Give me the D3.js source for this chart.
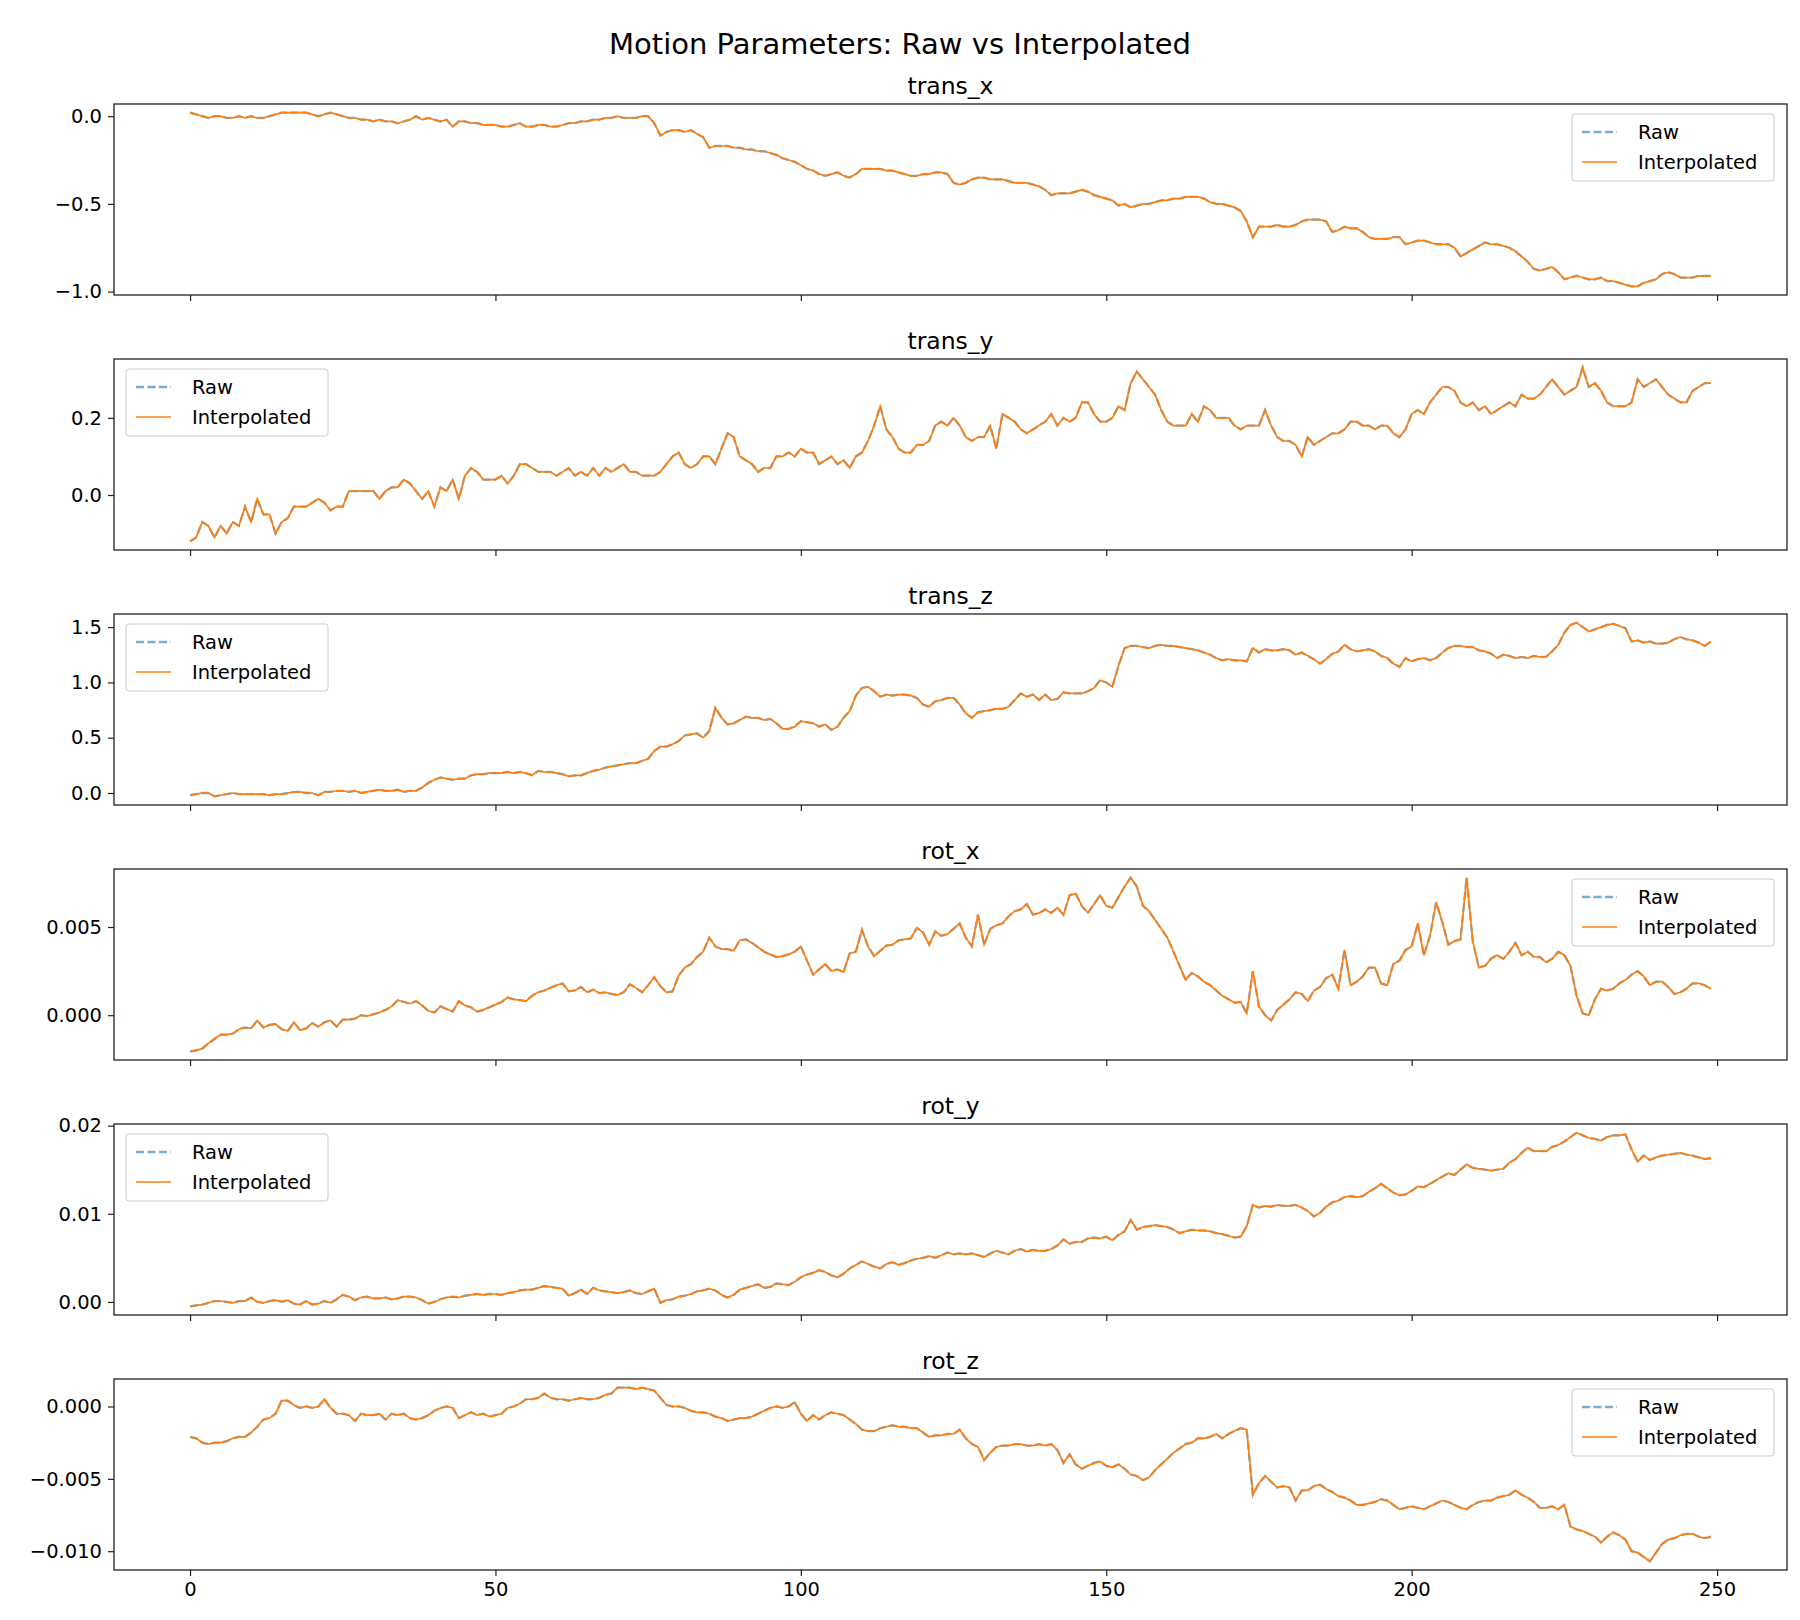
<!DOCTYPE html>
<html>
<head>
<meta charset="UTF-8">
<script src="https://d3js.org/d3.v7.min.js"></script>
<style>
  body { margin: 0; background: #fff; font-family: "DejaVu Sans", sans-serif; }
  .tick text { font-size: 19.5px; fill: #000; font-family: "DejaVu Sans", sans-serif; }
  .tick line { stroke: #222; stroke-width: 1.2; }
  .domain { display: none; }
</style>
</head>
<body>
<svg id="chart"></svg>
<script>
// frame index 0..249 for every series
const transX = [
  0.02,0.01,0.0,-0.01,0.0,0.0,-0.01,-0.01,0.0,-0.01,
  0.0,-0.01,-0.01,0.0,0.01,0.02,0.02,0.02,0.02,0.02,
  0.01,0.0,0.01,0.02,0.01,0.0,-0.01,-0.01,-0.02,-0.02,
  -0.03,-0.02,-0.03,-0.03,-0.04,-0.03,-0.02,0.0,-0.02,-0.01,
  -0.02,-0.03,-0.02,-0.06,-0.03,-0.03,-0.04,-0.04,-0.05,-0.05,
  -0.05,-0.06,-0.06,-0.05,-0.04,-0.06,-0.06,-0.05,-0.05,-0.06,
  -0.06,-0.05,-0.04,-0.04,-0.03,-0.03,-0.02,-0.02,-0.01,-0.01,
  0.0,-0.01,-0.01,-0.01,0.0,0.0,-0.04,-0.11,-0.09,-0.08,
  -0.08,-0.09,-0.08,-0.1,-0.12,-0.18,-0.17,-0.17,-0.17,-0.18,
  -0.18,-0.19,-0.19,-0.2,-0.2,-0.21,-0.22,-0.24,-0.25,-0.26,
  -0.28,-0.3,-0.31,-0.33,-0.34,-0.33,-0.32,-0.34,-0.35,-0.33,
  -0.3,-0.3,-0.3,-0.3,-0.31,-0.31,-0.32,-0.33,-0.34,-0.34,
  -0.33,-0.33,-0.32,-0.32,-0.33,-0.38,-0.39,-0.38,-0.36,-0.35,
  -0.35,-0.36,-0.36,-0.36,-0.37,-0.38,-0.38,-0.38,-0.39,-0.4,
  -0.42,-0.45,-0.44,-0.44,-0.44,-0.43,-0.42,-0.43,-0.45,-0.46,
  -0.47,-0.48,-0.51,-0.5,-0.52,-0.51,-0.5,-0.5,-0.49,-0.48,
  -0.48,-0.47,-0.47,-0.46,-0.46,-0.46,-0.47,-0.49,-0.5,-0.5,
  -0.51,-0.52,-0.54,-0.6,-0.69,-0.63,-0.63,-0.63,-0.62,-0.63,
  -0.63,-0.62,-0.6,-0.59,-0.59,-0.59,-0.6,-0.66,-0.65,-0.63,
  -0.64,-0.64,-0.66,-0.69,-0.7,-0.7,-0.7,-0.69,-0.69,-0.73,
  -0.72,-0.71,-0.71,-0.72,-0.73,-0.73,-0.73,-0.75,-0.8,-0.78,
  -0.76,-0.74,-0.72,-0.73,-0.73,-0.74,-0.75,-0.77,-0.8,-0.83,
  -0.87,-0.88,-0.87,-0.86,-0.89,-0.93,-0.92,-0.91,-0.92,-0.93,
  -0.93,-0.92,-0.94,-0.94,-0.95,-0.96,-0.97,-0.97,-0.95,-0.94,
  -0.93,-0.9,-0.89,-0.9,-0.92,-0.92,-0.92,-0.91,-0.91,-0.91
];
const transY = [
  -0.12,-0.11,-0.07,-0.08,-0.11,-0.08,-0.1,-0.07,-0.08,-0.03,
  -0.07,-0.01,-0.05,-0.05,-0.1,-0.07,-0.06,-0.03,-0.03,-0.03,
  -0.02,-0.01,-0.02,-0.04,-0.03,-0.03,0.01,0.01,0.01,0.01,
  0.01,-0.01,0.01,0.02,0.02,0.04,0.03,0.01,-0.01,0.01,
  -0.03,0.02,0.01,0.04,-0.01,0.05,0.07,0.06,0.04,0.04,
  0.04,0.05,0.03,0.05,0.08,0.08,0.07,0.06,0.06,0.06,
  0.05,0.06,0.07,0.05,0.06,0.05,0.07,0.05,0.07,0.06,
  0.07,0.08,0.06,0.06,0.05,0.05,0.05,0.06,0.08,0.1,
  0.11,0.08,0.07,0.08,0.1,0.1,0.08,0.12,0.16,0.15,
  0.1,0.09,0.08,0.06,0.07,0.07,0.1,0.1,0.11,0.1,
  0.12,0.11,0.11,0.08,0.09,0.1,0.08,0.09,0.07,0.1,
  0.11,0.14,0.18,0.23,0.17,0.15,0.12,0.11,0.11,0.13,
  0.13,0.14,0.18,0.19,0.18,0.2,0.18,0.15,0.14,0.15,
  0.15,0.18,0.12,0.21,0.2,0.19,0.17,0.16,0.17,0.18,
  0.19,0.21,0.18,0.2,0.19,0.2,0.24,0.24,0.21,0.19,
  0.19,0.2,0.23,0.22,0.29,0.32,0.3,0.28,0.26,0.22,
  0.19,0.18,0.18,0.18,0.21,0.19,0.23,0.22,0.2,0.2,
  0.2,0.18,0.17,0.18,0.18,0.18,0.22,0.18,0.15,0.14,
  0.14,0.13,0.1,0.15,0.13,0.14,0.15,0.16,0.16,0.17,
  0.19,0.19,0.18,0.18,0.17,0.18,0.18,0.16,0.15,0.17,
  0.21,0.22,0.21,0.24,0.26,0.28,0.28,0.27,0.24,0.23,
  0.24,0.22,0.23,0.21,0.22,0.23,0.24,0.23,0.26,0.25,
  0.25,0.26,0.28,0.3,0.28,0.26,0.27,0.28,0.33,0.28,
  0.29,0.27,0.24,0.23,0.23,0.23,0.24,0.3,0.28,0.29,
  0.3,0.28,0.26,0.25,0.24,0.24,0.27,0.28,0.29,0.29
];
const transZ = [
  -0.02,-0.01,0.0,0.0,-0.03,-0.02,-0.01,0.0,-0.01,-0.01,
  -0.01,-0.01,-0.01,-0.02,-0.01,-0.01,0.0,0.01,0.01,0.0,
  0.0,-0.02,0.01,0.01,0.02,0.02,0.01,0.02,0.0,0.01,
  0.02,0.03,0.02,0.02,0.03,0.01,0.02,0.02,0.05,0.09,
  0.12,0.14,0.13,0.12,0.13,0.13,0.16,0.17,0.17,0.18,
  0.18,0.18,0.19,0.18,0.19,0.18,0.16,0.2,0.19,0.19,
  0.18,0.17,0.15,0.16,0.16,0.18,0.2,0.21,0.23,0.24,
  0.25,0.26,0.27,0.27,0.29,0.31,0.38,0.42,0.42,0.44,
  0.47,0.52,0.53,0.54,0.5,0.56,0.77,0.68,0.62,0.63,
  0.66,0.69,0.68,0.68,0.66,0.67,0.63,0.58,0.58,0.6,
  0.65,0.64,0.63,0.6,0.62,0.57,0.6,0.68,0.74,0.88,
  0.95,0.96,0.92,0.87,0.89,0.88,0.89,0.89,0.88,0.86,
  0.8,0.78,0.83,0.84,0.86,0.86,0.8,0.72,0.68,0.73,
  0.74,0.75,0.76,0.76,0.78,0.84,0.9,0.87,0.89,0.84,
  0.89,0.84,0.85,0.91,0.9,0.9,0.9,0.92,0.95,1.02,
  1.0,0.96,1.15,1.31,1.33,1.33,1.32,1.31,1.33,1.34,
  1.33,1.33,1.32,1.31,1.3,1.29,1.27,1.25,1.22,1.2,
  1.21,1.2,1.2,1.19,1.31,1.27,1.3,1.29,1.29,1.3,
  1.29,1.25,1.27,1.24,1.21,1.17,1.21,1.26,1.28,1.34,
  1.3,1.28,1.29,1.3,1.28,1.24,1.22,1.17,1.14,1.22,
  1.19,1.21,1.22,1.2,1.22,1.27,1.31,1.33,1.33,1.32,
  1.32,1.29,1.28,1.26,1.22,1.25,1.24,1.22,1.23,1.22,
  1.24,1.23,1.23,1.28,1.34,1.45,1.52,1.54,1.5,1.46,
  1.48,1.5,1.52,1.53,1.51,1.49,1.37,1.38,1.36,1.37,
  1.35,1.35,1.36,1.39,1.41,1.39,1.38,1.36,1.33,1.37
];
const rotX = [
  -0.00205,-0.002,-0.0019,-0.0016,-0.00135,-0.0011,-0.0011,-0.00105,-0.0008,-0.0007,
  -0.00075,-0.0003,-0.0007,-0.00055,-0.0005,-0.0008,-0.0009,-0.0004,-0.00085,-0.00075,
  -0.00045,-0.00065,-0.0004,-0.0003,-0.00065,-0.00025,-0.00025,-0.0002,0.0,-0.00005,
  0.00005,0.00015,0.0003,0.0005,0.00085,0.00075,0.00065,0.0008,0.00055,0.00025,
  0.00015,0.0005,0.00035,0.0002,0.0008,0.00055,0.00045,0.0002,0.0003,0.00045,
  0.0006,0.00075,0.001,0.0009,0.00085,0.0008,0.0011,0.0013,0.0014,0.00155,
  0.0017,0.0018,0.00135,0.0014,0.0016,0.0013,0.00145,0.00125,0.0013,0.0012,
  0.00115,0.0013,0.00175,0.00155,0.0013,0.0017,0.00215,0.00165,0.0013,0.00135,
  0.00225,0.0027,0.0029,0.0033,0.0036,0.0044,0.0039,0.00375,0.00375,0.00365,
  0.00425,0.0043,0.0041,0.00385,0.0036,0.00345,0.0033,0.00335,0.00345,0.0036,
  0.0039,0.0031,0.0023,0.0026,0.0029,0.0025,0.0026,0.00245,0.0035,0.0036,
  0.00485,0.0039,0.00335,0.00365,0.00395,0.004,0.00425,0.0043,0.00435,0.00495,
  0.0047,0.004,0.00475,0.0045,0.0046,0.0049,0.0052,0.0044,0.0039,0.0057,
  0.004,0.0049,0.0051,0.0052,0.0056,0.0059,0.006,0.0063,0.0057,0.0058,
  0.006,0.0058,0.0061,0.0057,0.0068,0.0069,0.0062,0.0058,0.0063,0.0068,
  0.0062,0.0061,0.0067,0.0073,0.0078,0.0073,0.0062,0.0059,0.0054,0.0049,
  0.0044,0.0036,0.0028,0.002,0.0024,0.0022,0.0019,0.0017,0.0014,0.0011,
  0.0009,0.0007,0.00075,0.0001,0.0025,0.0005,0.0,-0.0003,0.0003,0.0006,
  0.0009,0.0013,0.0012,0.0008,0.0014,0.0016,0.0021,0.0023,0.0015,0.0037,
  0.0017,0.0019,0.0022,0.0027,0.0027,0.0018,0.0017,0.0029,0.0031,0.0037,
  0.0039,0.0052,0.0034,0.0045,0.0064,0.0053,0.004,0.0042,0.0043,0.0078,
  0.0042,0.0027,0.0028,0.0032,0.0034,0.0032,0.0036,0.0041,0.0034,0.0036,
  0.0033,0.0033,0.003,0.0032,0.0036,0.0034,0.0028,0.0011,0.0001,0.0,
  0.0009,0.0015,0.0014,0.0015,0.0018,0.002,0.0023,0.0025,0.0022,0.0017,
  0.0019,0.0019,0.0016,0.0012,0.0013,0.0015,0.0018,0.0018,0.0017,0.0015
];
const rotY = [
  -0.0005,-0.0004,-0.0003,-0.0001,0.0001,0.0001,0.0,-0.0001,0.0001,0.0001,
  0.0005,0.0,-0.0001,0.0001,0.0002,0.0,0.0002,-0.0002,-0.0003,0.0001,
  -0.0003,-0.0002,0.0001,-0.0001,0.0003,0.0008,0.0006,0.0002,0.0005,0.0006,
  0.0004,0.0004,0.0005,0.0003,0.0004,0.0006,0.0006,0.0005,0.0002,-0.0002,
  0.0,0.0003,0.0005,0.0006,0.0005,0.0007,0.0008,0.0009,0.0008,0.0009,
  0.0009,0.0008,0.001,0.0011,0.0013,0.0014,0.0014,0.0016,0.0018,0.0017,
  0.0016,0.0015,0.0007,0.001,0.0014,0.0009,0.0016,0.0013,0.0012,0.0011,
  0.001,0.0011,0.0013,0.001,0.0009,0.0012,0.0015,-0.0001,0.0002,0.0003,
  0.0006,0.0007,0.0009,0.0012,0.0013,0.0015,0.0013,0.0008,0.0005,0.0008,
  0.0014,0.0016,0.0018,0.002,0.0016,0.0017,0.0021,0.002,0.0019,0.0023,
  0.0028,0.0031,0.0033,0.0036,0.0034,0.003,0.0028,0.0032,0.0038,0.0042,
  0.0046,0.0043,0.004,0.0038,0.0043,0.0045,0.0042,0.0044,0.0047,0.0049,
  0.005,0.0052,0.005,0.0053,0.0056,0.0054,0.0055,0.0054,0.0055,0.0053,
  0.0051,0.0055,0.0058,0.0056,0.0054,0.0058,0.006,0.0057,0.0059,0.0058,
  0.0058,0.006,0.0064,0.0071,0.0066,0.0068,0.0068,0.0072,0.0073,0.0072,
  0.0074,0.007,0.0076,0.008,0.0093,0.0082,0.0085,0.0086,0.0087,0.0086,
  0.0085,0.0082,0.0078,0.008,0.0082,0.0081,0.0081,0.008,0.0078,0.0077,
  0.0075,0.0073,0.0074,0.0086,0.011,0.0107,0.0109,0.0108,0.011,0.0109,
  0.0109,0.011,0.0107,0.0103,0.0097,0.0101,0.0108,0.0113,0.0115,0.0119,
  0.012,0.0119,0.012,0.0125,0.0129,0.0134,0.0129,0.0124,0.0121,0.0122,
  0.0126,0.0131,0.013,0.0134,0.0138,0.0142,0.0146,0.0144,0.015,0.0156,
  0.0152,0.0151,0.015,0.0149,0.015,0.0151,0.0158,0.0162,0.0169,0.0175,
  0.0171,0.0171,0.0171,0.0176,0.0178,0.0182,0.0187,0.0192,0.0189,0.0186,
  0.0185,0.0183,0.0187,0.0189,0.0189,0.019,0.0173,0.0159,0.0166,0.0161,
  0.0164,0.0166,0.0167,0.0168,0.0169,0.0167,0.0166,0.0164,0.0162,0.0163
];
const rotZ = [
  -0.0021,-0.0022,-0.0025,-0.0026,-0.0025,-0.0025,-0.0024,-0.0022,-0.0021,-0.0021,
  -0.0018,-0.0014,-0.0009,-0.0008,-0.0005,0.0004,0.0004,0.0001,-0.0001,0.0,
  -0.0001,0.0,0.0005,-0.0001,-0.0005,-0.0005,-0.0006,-0.001,-0.0005,-0.0006,
  -0.0006,-0.0005,-0.0009,-0.0005,-0.0006,-0.0005,-0.0008,-0.0009,-0.0008,-0.0006,
  -0.0003,-0.0001,0.0,-0.0001,-0.0008,-0.0006,-0.0004,-0.0006,-0.0005,-0.0007,
  -0.0006,-0.0005,-0.0001,0.0,0.0002,0.0005,0.0005,0.0006,0.0009,0.0006,
  0.0005,0.0005,0.0004,0.0005,0.0006,0.0005,0.0005,0.0006,0.0008,0.0009,
  0.0013,0.0013,0.0013,0.0012,0.0013,0.0012,0.0011,0.0006,0.0001,0.0,
  0.0,-0.0001,-0.0003,-0.0004,-0.0004,-0.0005,-0.0007,-0.0008,-0.001,-0.0009,
  -0.0008,-0.0008,-0.0007,-0.0005,-0.0003,-0.0001,0.0,-0.0001,0.0,0.0003,
  -0.0005,-0.001,-0.0006,-0.0009,-0.0006,-0.0004,-0.0005,-0.0006,-0.0009,-0.0012,
  -0.0016,-0.0017,-0.0017,-0.0015,-0.0014,-0.0013,-0.0014,-0.0014,-0.0015,-0.0015,
  -0.0018,-0.0021,-0.002,-0.002,-0.0019,-0.0019,-0.0016,-0.0022,-0.0026,-0.0028,
  -0.0037,-0.0032,-0.0028,-0.0027,-0.0027,-0.0026,-0.0026,-0.0027,-0.0027,-0.0026,
  -0.0027,-0.0026,-0.003,-0.0039,-0.0033,-0.004,-0.0043,-0.0041,-0.0039,-0.0038,
  -0.0041,-0.0042,-0.004,-0.0043,-0.0047,-0.0048,-0.0051,-0.0049,-0.0044,-0.004,
  -0.0036,-0.0032,-0.0029,-0.0026,-0.0025,-0.0022,-0.0022,-0.0021,-0.0019,-0.0022,
  -0.0019,-0.0017,-0.0015,-0.0016,-0.0061,-0.0053,-0.0048,-0.0052,-0.0056,-0.0055,
  -0.0056,-0.0065,-0.0058,-0.0058,-0.0055,-0.0054,-0.0057,-0.0059,-0.0062,-0.0063,
  -0.0065,-0.0068,-0.0068,-0.0067,-0.0066,-0.0064,-0.0065,-0.0068,-0.0071,-0.007,
  -0.0069,-0.007,-0.0071,-0.0069,-0.0067,-0.0065,-0.0066,-0.0068,-0.007,-0.0071,
  -0.0068,-0.0066,-0.0065,-0.0065,-0.0063,-0.0062,-0.0061,-0.0058,-0.0061,-0.0063,
  -0.0066,-0.007,-0.007,-0.0069,-0.0071,-0.0068,-0.0083,-0.0085,-0.0086,-0.0088,
  -0.009,-0.0094,-0.009,-0.0087,-0.0089,-0.0092,-0.01,-0.0101,-0.0104,-0.0107,
  -0.0101,-0.0095,-0.0092,-0.0091,-0.0089,-0.0088,-0.0088,-0.009,-0.0091,-0.009
];

const names = ["trans_x", "trans_y", "trans_z", "rot_x", "rot_y", "rot_z"];
const series = [transX, transY, transZ, rotX, rotY, rotZ];
const yTicks = [
  [-1.0, -0.5, 0.0], [0.0, 0.2], [0.0, 0.5, 1.0, 1.5],
  [0.0, 0.005], [0.0, 0.01, 0.02], [-0.01, -0.005, 0.0]
];
const yFormats = [".1f", ".1f", ".1f", ".3f", ".2f", ".3f"];
const legendSide = ["right", "left", "left", "right", "left", "right"];
const xTicks = [0, 50, 100, 150, 200, 250];

const W = 1800, H = 1620;
const left = 114, right = 1787, top0 = 104, step = 255, ph = 191;
const svg = d3.select("#chart").attr("width", W).attr("height", H);

svg.append("text").attr("x", 900).attr("y", 54).attr("text-anchor", "middle")
  .style("font-size", "29px").text("Motion Parameters: Raw vs Interpolated");

const n = transX.length;
const x = d3.scaleLinear().domain([-(n - 1) * 0.05, (n - 1) * 1.05]).range([left, right]);

series.forEach((vals, i) => {
  const top = top0 + i * step, bot = top + ph;
  const [mn, mx] = d3.extent(vals);
  const pad = (mx - mn) * 0.05;
  const y = d3.scaleLinear().domain([mn - pad, mx + pad]).range([bot, top]);
  const g = svg.append("g");

  g.append("text").attr("x", (left + right) / 2).attr("y", top - 10)
    .attr("text-anchor", "middle").style("font-size", "23.5px").text(names[i]);

  const line = d3.line().x((d, k) => x(k)).y(d => y(d));
  g.append("path").datum(vals).attr("d", line).attr("fill", "none")
    .attr("stroke", "#1f77b4").attr("stroke-opacity", 0.6).attr("stroke-width", 2.3)
    .attr("stroke-dasharray", "8,3.5");
  g.append("path").datum(vals).attr("d", line).attr("fill", "none")
    .attr("stroke", "#ff7f0e").attr("stroke-width", 1.7);

  g.append("g").attr("transform", `translate(${left},0)`)
    .call(d3.axisLeft(y).tickValues(yTicks[i]).tickFormat(d3.format(yFormats[i])).tickSize(6).tickPadding(6));
  g.append("g").attr("transform", `translate(0,${bot})`)
    .call(d3.axisBottom(x).tickValues(xTicks).tickSize(6).tickPadding(6)
      .tickFormat(i === series.length - 1 ? d3.format("d") : ""));

  g.append("rect").attr("x", left).attr("y", top).attr("width", right - left).attr("height", ph)
    .attr("fill", "none").attr("stroke", "#222").attr("stroke-width", 1.3);

  // legend
  const lw = 202, lh = 67;
  const lx = legendSide[i] === "right" ? right - 13 - lw : left + 12;
  const ly = top + 10;
  const lg = g.append("g").attr("transform", `translate(${lx},${ly})`);
  lg.append("rect").attr("width", lw).attr("height", lh).attr("rx", 3)
    .attr("fill", "#fff").attr("fill-opacity", 0.8).attr("stroke", "#ccc");
  lg.append("line").attr("x1", 10).attr("x2", 45).attr("y1", 18).attr("y2", 18)
    .attr("stroke", "#1f77b4").attr("stroke-opacity", 0.6).attr("stroke-width", 2.3)
    .attr("stroke-dasharray", "8,3.5");
  lg.append("line").attr("x1", 10).attr("x2", 45).attr("y1", 48).attr("y2", 48)
    .attr("stroke", "#ff7f0e").attr("stroke-width", 1.7);
  lg.append("text").attr("x", 66).attr("y", 25).style("font-size", "19.5px").text("Raw");
  lg.append("text").attr("x", 66).attr("y", 55).style("font-size", "19.5px").text("Interpolated");
});
</script>
</body>
</html>
